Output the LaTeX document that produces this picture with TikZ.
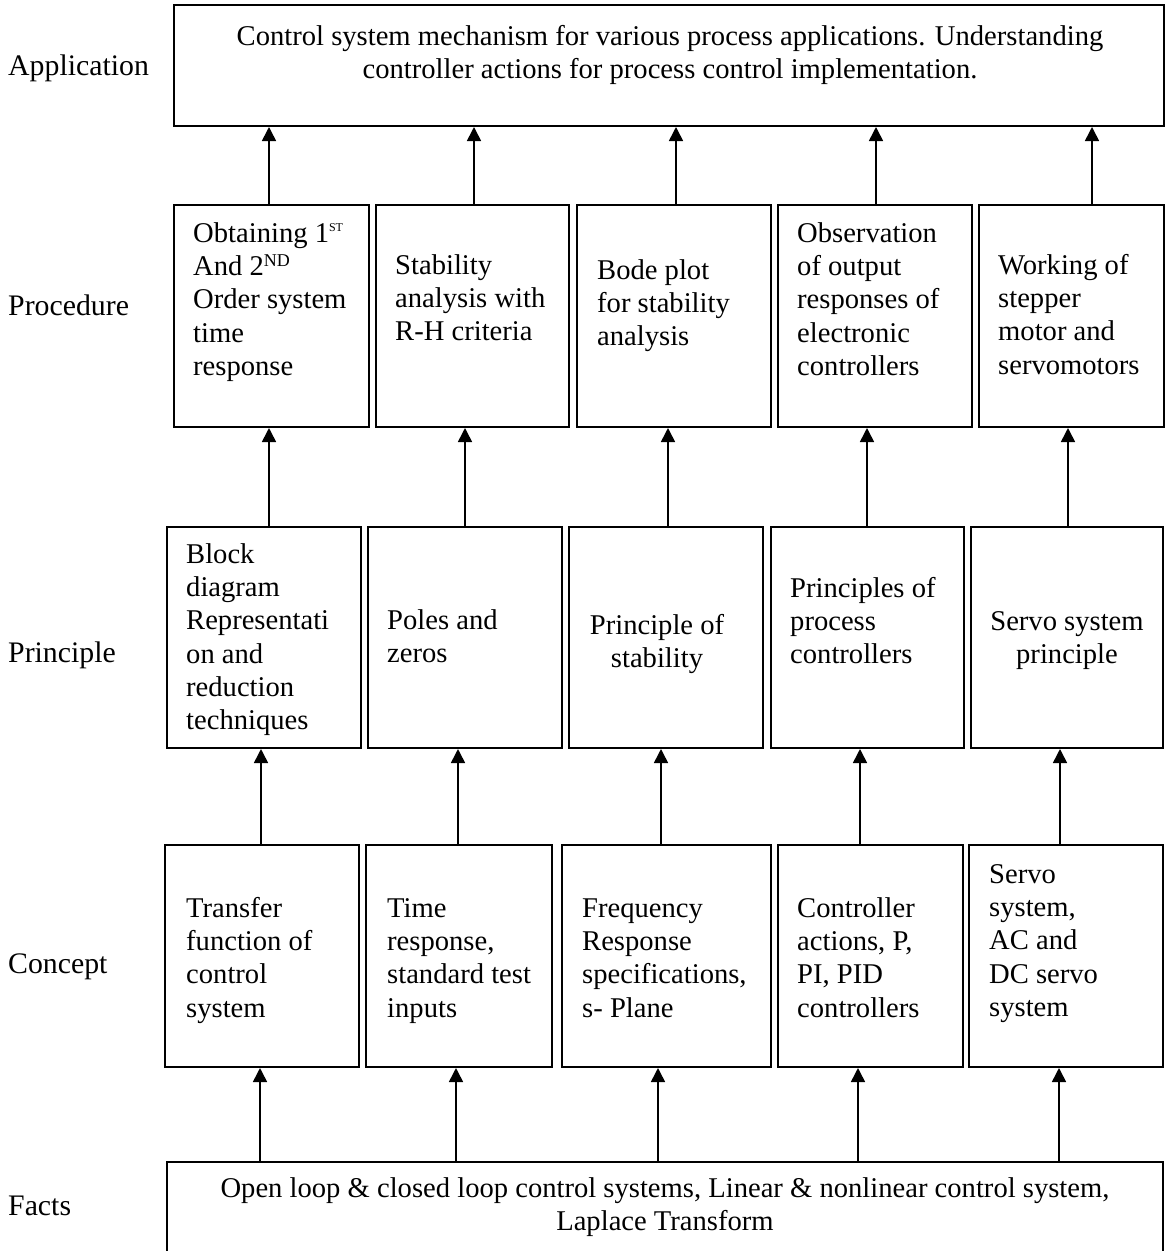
\documentclass[tikz,border=0pt]{standalone}
\usepackage{fontspec}
\setmainfont{Liberation Serif}
\usetikzlibrary{arrows.meta}
\begin{document}
\begin{tikzpicture}[x=1pt,y=-1pt,
  boxnode/.style={draw, rectangle, line width=2pt, inner sep=0pt},
  txt/.style={inner sep=0pt, font=\fontsize{28.6}{33.3}\selectfont, align=left, anchor=north west},
  ctxt/.style={inner sep=0pt, font=\fontsize{28.6}{33.3}\selectfont, align=center, anchor=north},
  lbl/.style={inner sep=0pt, font=\fontsize{29.8}{34}\selectfont, anchor=base west},
  arr/.style={line width=1.6pt, -{Triangle[width=14pt,length=14pt]}}]
\useasboundingbox (0,0) rectangle (1166,1251);

% level labels
\node[lbl] (lapp) at (8,75) {Application};
\node[lbl] (lproc) at (8,315) {Procedure};
\node[lbl] (lprin) at (8,662) {Principle};
\node[lbl] (lcon) at (8,973) {Concept};
\node[lbl] (lfact) at (8,1215) {Facts};

% application
\node[boxnode, minimum width=990pt, minimum height=121pt] (app) at (669,65.5) {};
\node[ctxt] (appt) at (670,21.7) {\strut Control system mechanism for various process applications. Understanding\\ controller actions for process control implementation.};

% procedure
\node[boxnode, minimum width=195pt, minimum height=222pt] (p1) at (271.5,316) {};
\node[boxnode, minimum width=193pt, minimum height=222pt] (p2) at (472.5,316) {};
\node[boxnode, minimum width=194pt, minimum height=222pt] (p3) at (674,316) {};
\node[boxnode, minimum width=194pt, minimum height=222pt] (p4) at (875,316) {};
\node[boxnode, minimum width=185pt, minimum height=222pt] (p5) at (1071.5,316) {};
\node[txt] (p1t) at (193,218.7) {\strut Obtaining 1\raisebox{11pt}{\fontsize{12}{12}\selectfont ST}\\ And 2\raisebox{9pt}{\fontsize{18}{18}\selectfont ND}\\ Order system\\ time\\ response};
\node[txt] (p2t) at (395,250.7) {\strut Stability\\ analysis with\\ R-H criteria};
\node[txt] (p3t) at (597,255.7) {\strut Bode plot\\ for stability\\ analysis};
\node[txt] (p4t) at (797,218.7) {\strut Observation\\ of output\\ responses of\\ electronic\\ controllers};
\node[txt] (p5t) at (998,250.7) {\strut Working of\\ stepper\\ motor and\\ servomotors};

% principle
\node[boxnode, minimum width=194pt, minimum height=221pt] (r1) at (264,637.5) {};
\node[boxnode, minimum width=194pt, minimum height=221pt] (r2) at (465,637.5) {};
\node[boxnode, minimum width=194pt, minimum height=221pt] (r3) at (666,637.5) {};
\node[boxnode, minimum width=193pt, minimum height=221pt] (r4) at (867.5,637.5) {};
\node[boxnode, minimum width=192pt, minimum height=221pt] (r5) at (1067,637.5) {};
\node[txt] (r1t) at (186,539.7) {\strut Block\\ diagram\\ Representati\\ on and\\ reduction\\ techniques};
\node[txt] (r2t) at (387,605.7) {\strut Poles and\\ zeros};
\node[ctxt] (r3t) at (657,610.7) {\strut Principle of\\ stability};
\node[txt] (r4t) at (790,573.7) {\strut Principles of\\ process\\ controllers};
\node[ctxt] (r5t) at (1067,606.7) {\strut Servo system\\ principle};

% concept
\node[boxnode, minimum width=194pt, minimum height=222pt] (c1) at (262,956) {};
\node[boxnode, minimum width=186pt, minimum height=222pt] (c2) at (459,956) {};
\node[boxnode, minimum width=209pt, minimum height=222pt] (c3) at (666.5,956) {};
\node[boxnode, minimum width=185pt, minimum height=222pt] (c4) at (870.5,956) {};
\node[boxnode, minimum width=194pt, minimum height=222pt] (c5) at (1066,956) {};
\node[txt] (c1t) at (186,893.7) {\strut Transfer\\ function of\\ control\\ system};
\node[txt] (c2t) at (387,893.7) {\strut Time\\ response,\\ standard test\\ inputs};
\node[txt] (c3t) at (582,893.7) {\strut Frequency\\ Response\\ specifications,\\ s- Plane};
\node[txt] (c4t) at (797,893.7) {\strut Controller\\ actions, P,\\ PI, PID\\ controllers};
\node[txt] (c5t) at (989,859.7) {\strut Servo\\ system,\\ AC and\\ DC servo\\ system};

% facts (box runs past the lower edge)
\node[boxnode, draw=none, outer sep=0pt, minimum width=996pt, minimum height=89pt] (facts) at (665,1206.5) {};
\draw[line width=2pt] (facts.south west) |- (facts.north east) -- (facts.south east);
\node[ctxt] (factst) at (665,1173.7) {\strut Open loop \& closed loop control systems, Linear \& nonlinear control system,\\ Laplace Transform};

% connectors
\foreach \s/\d/\xx [count=\i] in {
  facts/c1/260, facts/c2/456, facts/c3/658, facts/c4/858, facts/c5/1059,
  c1/r1/261, c2/r2/458, c3/r3/661, c4/r4/860, c5/r5/1060,
  r1/p1/269, r2/p2/465, r3/p3/668, r4/p4/867, r5/p5/1068,
  p1/app/269, p2/app/474, p3/app/676, p4/app/876, p5/app/1092}
{
  \coordinate (ax\i) at (\xx,0);
  \draw[arr] (\s.north -| ax\i) -- (\d.south -| ax\i);
}
\end{tikzpicture}
\end{document}
